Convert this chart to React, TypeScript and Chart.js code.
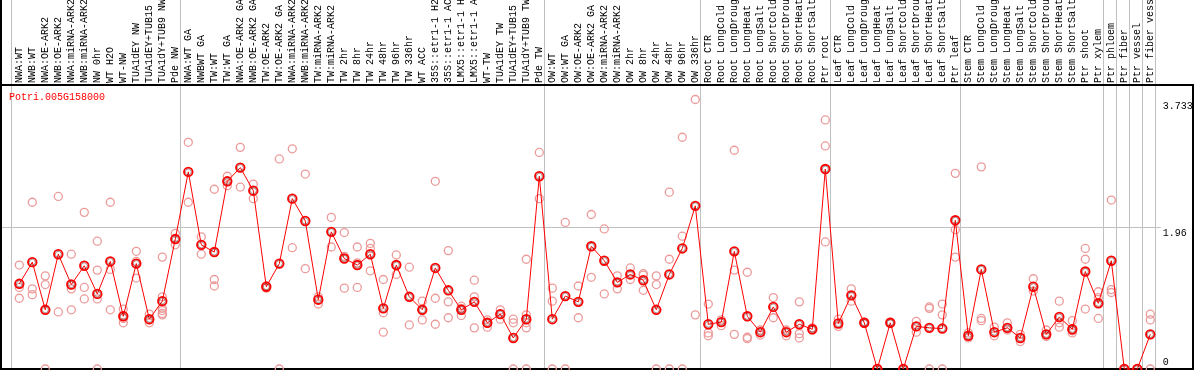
import React, { useEffect, useRef } from "react";
import { Chart, registerables } from "chart.js";

Chart.register(...registerables);

const geneId = "Potri.005G158000";

const categories = [
  "NWA:WT", "NWB:WT", "NWA:OE-ARK2", "NWB:OE-ARK2", "NWA:miRNA-ARK2", "NWB:miRNA-ARK2",
  "NW 0hr", "WT H2O", "WT-NW", "TUA1dEY NW", "TUA1dEY+TUB15 NW", "TUA1dY+TUB9 NW", "Pde NW",
  "NWA:WT GA", "NWBWT GA", "TW:WT", "TW:WT GA", "NWA:OE-ARK2 GA", "NWB:OE-ARK2 GA",
  "TW:OE-ARK2", "TW:OE-ARK2 GA", "NWA:miRNA-ARK2 GA", "NWB:miRNA-ARK2 GA", "TW:miRNA-ARK2",
  "TW:miRNA-ARK2 GA", "TW 2hr", "TW 8hr", "TW 24hr", "TW 48hr", "TW 96hr", "TW 336hr", "WT ACC",
  "35S::etr1-1 H2O", "35S::etr1-1 ACC", "LMX5::etr1-1 H2O", "LMX5::etr1-1 ACC", "WT-TW",
  "TUA1dEY TW", "TUA1dEY+TUB15 TW", "TUA1dY+TUB9 TW", "Pde TW",
  "OW:WT", "OW:WT GA", "OW:OE-ARK2", "OW:OE-ARK2 GA", "OW:miRNA-ARK2", "OW:miRNA-ARK2 GA",
  "OW 2hr", "OW 8hr", "OW 24hr", "OW 48hr", "OW 96hr", "OW 336hr",
  "Root CTR", "Root LongCold", "Root LongDrought", "Root LongHeat", "Root LongSalt",
  "Root ShortCold", "Root ShortDrought", "Root ShortHeat", "Root ShortSalt", "Ptr root",
  "Leaf CTR", "Leaf LongCold", "Leaf LongDrought", "Leaf LongHeat", "Leaf LongSalt",
  "Leaf ShortCold", "Leaf ShortDrought", "Leaf ShortHeat", "Leaf ShortSalt", "Ptr leaf",
  "Stem CTR", "Stem LongCold", "Stem LongDrought", "Stem LongHeat", "Stem LongSalt",
  "Stem ShortCold", "Stem ShortDrought", "Stem ShortHeat", "Stem ShortSalt", "Ptr shoot",
  "Ptr xylem", "Ptr phloem", "Ptr fiber", "Ptr vessel", "Ptr fiber vessel",
];

const meanValues = [
  1.18, 1.48, 0.82, 1.59, 1.17, 1.43, 1.04, 1.49, 0.73, 1.46, 0.69, 0.94, 1.80,
  2.73, 1.72, 1.62, 2.60, 2.79, 2.47, 1.14, 1.46, 2.36, 2.05, 0.96, 1.90, 1.53, 1.44,
  1.59, 0.84, 1.44, 1.00, 0.82, 1.40, 1.09, 0.82, 0.93, 0.64, 0.76, 0.43, 0.69, 2.67,
  0.69, 1.01, 0.93, 1.70, 1.50, 1.20, 1.31, 1.23, 0.82, 1.31, 1.67, 2.26,
  0.62, 0.65, 1.63, 0.73, 0.51, 0.86, 0.51, 0.62, 0.55, 2.77,
  0.63, 1.02, 0.64, 0, 0.64, 0, 0.59, 0.57, 0.56, 2.06,
  0.46, 1.38, 0.51, 0.57, 0.43, 1.14, 0.48, 0.72, 0.55, 1.35, 0.91,
  1.50, 0, 0, 0.48,
];

const replicateValues = [
  [1.44, 1.13, 0.98], [2.31, 1.11, 1.03], [1.29, 1.17, 0], [2.39, 0.79], [1.59, 1.11, 0.82],
  [2.17, 1.13, 0.97], [1.77, 1.37, 0.97, 0], [2.31, 1.38, 0.82], [0.83, 0.70, 0.64],
  [1.63, 1.49, 1.26], [0.76, 0.68, 0.64], [1.55, 1.00, 0.84, 0.81, 0.77, 0.75], [1.88, 1.72],
  [3.14, 2.31], [1.83, 1.59], [2.49, 1.24, 1.15], [2.67, 2.54], [3.07, 2.52], [2.56, 2.36],
  [1.15, 1.12], [2.91, 0], [3.05, 1.68], [2.70, 1.39], [1.00, 0.90], [2.10, 1.69],
  [1.89, 1.56, 1.12], [1.69, 1.47, 1.13], [1.74, 1.67, 1.36], [1.24, 0.78, 0.51], [1.58, 1.31],
  [1.41, 0.61], [0.94, 0.82, 0.68], [2.60, 0.98, 0.62], [1.64, 0.93, 0.71], [0.87, 0.84, 0.74],
  [1.23, 1.00, 0.57], [0.68, 0.64, 0.58], [0.82, 0.76, 0.69], [0.69, 0.64, 0],
  [1.52, 0.75, 0.69, 0.64, 0.57, 0], [3.00, 2.36],
  [1.12, 0.94, 0], [2.03, 0], [1.15, 0.71], [2.14, 1.27], [1.94, 1.04], [1.29, 1.11],
  [1.40, 1.24], [1.32, 1.30, 1.09], [1.29, 1.17, 0], [2.45, 1.52, 0], [3.21, 1.84, 0], [3.733, 0.75],
  [0.90, 0.50, 0.46], [0.68, 0.60], [3.03, 1.37, 0.48], [1.34, 0.44, 0.42], [0.54, 0.47],
  [0.99, 0.71], [0.54, 0.46], [0.93, 0.49, 0.43], [0.57, 0.54], [3.45, 3.09, 1.76],
  [0.69, 0.59], [1.11, 0.94], [0.65, 0.63], [0, 0], [0.65, 0.63], [0, 0], [0.66, 0.51],
  [0.84, 0.86, 0], [0.90, 0.75, 0], [2.71, 1.93, 1.55],
  [0.50, 0.43], [2.80, 0.70, 0.67], [0.58, 0.46], [0.64, 0.54], [0.48, 0.38], [1.25, 1.08],
  [0.54, 0.45], [0.94, 0.64, 0.58], [0.67, 0.53, 0.50], [1.67, 1.52, 0.83], [1.07, 0.99, 0.70],
  [2.34, 1.10, 1.06], [0, 0], [0, 0], [0.76, 0.68, 0],
];

const groupStarts = [0, 13, 41, 53, 63, 73, 84, 85, 86, 87, 88];
const yTickValues = [3.733, 1.96, 0];
const yTickLabels = ["3.733", "1.96", "0"];
const yGridValues = [1.96];
const yMax = 3.934;

const FONT = "10px 'Liberation Mono', 'DejaVu Sans Mono', monospace";

const decorPlugin = {
  id: "decor",
  beforeDatasetsDraw(chart: any) {
    const { ctx, chartArea } = chart;
    const xs = chart.scales.x;
    const ys = chart.scales.y;
    const W = chart.width;
    const H = chart.height;
    ctx.save();
    ctx.strokeStyle = "#c0c0c0";
    ctx.lineWidth = 1;
    for (const g of groupStarts) {
      const x = Math.round(xs.getPixelForValue(g - 0.5) - 1.5) + 0.5;
      ctx.beginPath();
      ctx.moveTo(x, 0);
      ctx.lineTo(x, H);
      ctx.stroke();
    }
    for (const v of yGridValues) {
      const y = Math.floor(ys.getPixelForValue(v)) + 0.5;
      ctx.beginPath();
      ctx.moveTo(0, y);
      ctx.lineTo(chartArea.right + 4, y);
      ctx.stroke();
    }
    ctx.fillStyle = "#000";
    ctx.fillRect(0, 0, 2, H);
    ctx.fillRect(0, chartArea.top - 1, W, 2);
    ctx.fillRect(0, chartArea.bottom - 1, W, 2);
    ctx.fillRect(W - 2, chartArea.top, 2, H - chartArea.top);
    ctx.restore();
  },
  afterDraw(chart: any) {
    const { ctx, chartArea } = chart;
    const xs = chart.scales.x;
    const ys = chart.scales.y;
    ctx.save();
    ctx.font = FONT;
    ctx.fillStyle = "#000";
    ctx.textAlign = "left";
    ctx.textBaseline = "middle";
    categories.forEach((label, i) => {
      ctx.save();
      ctx.translate(xs.getPixelForValue(i), chartArea.top - 2);
      ctx.rotate(-Math.PI / 2);
      ctx.fillText(label, 0, 0);
      ctx.restore();
    });
    const offsets = [7, 5.5, -7];
    yTickValues.forEach((v, i) => {
      ctx.fillText(yTickLabels[i], chartArea.right + 6, ys.getPixelForValue(v) + offsets[i]);
    });
    ctx.fillStyle = "#ff0000";
    ctx.fillText(geneId, 9, chartArea.top + 12);
    ctx.restore();
  },
};

export default function App() {
  const canvasRef = useRef<HTMLCanvasElement | null>(null);

  useEffect(() => {
    const canvas = canvasRef.current;
    if (!canvas) return;
    const meanPoints = meanValues.map((v, i) => ({ x: i, y: v }));
    const repPoints: { x: number; y: number }[] = [];
    replicateValues.forEach((reps, i) => reps.forEach((v) => repPoints.push({ x: i, y: v })));

    const chart = new Chart(canvas, {
      type: "scatter",
      data: {
        datasets: [
          {
            label: geneId + " inner",
            data: meanPoints,
            showLine: false,
            pointRadius: 3,
            pointBorderWidth: 0.7,
            pointBorderColor: "rgba(60,0,0,0.6)",
            pointBackgroundColor: "rgba(0,0,0,0)",
            clip: false,
            order: -1,
          } as any,
          {
            label: geneId,
            data: meanPoints,
            showLine: true,
            borderColor: "#ff0000",
            borderWidth: 1,
            pointRadius: 4.3,
            pointBorderWidth: 1.8,
            pointBorderColor: "#ff0000",
            pointBackgroundColor: "rgba(0,0,0,0)",
            clip: false,
            order: 0,
          } as any,
          {
            label: "replicates",
            data: repPoints,
            showLine: false,
            pointRadius: 4,
            pointBorderWidth: 1.3,
            pointBorderColor: "#ec9a9a",
            pointBackgroundColor: "rgba(0,0,0,0)",
            clip: false,
            order: 1,
          } as any,
        ],
      },
      options: {
        animation: false,
        responsive: false,
        devicePixelRatio: 1,
        layout: { autoPadding: false, padding: { top: 85, left: 12.8, right: 37.2, bottom: 1 } },
        plugins: { legend: { display: false }, tooltip: { enabled: false } },
        events: [],
        scales: {
          x: { type: "linear", min: -0.5, max: categories.length - 0.5, display: false },
          y: { type: "linear", min: 0, max: yMax, display: false },
        },
      },
      plugins: [decorPlugin],
    });
    return () => chart.destroy();
  }, []);

  return (
    <div style={{ position: "fixed", left: 0, top: 0, width: 1194, height: 370, background: "#fff" }}>
      <canvas ref={canvasRef} width={1194} height={370} style={{ display: "block" }} />
    </div>
  );
}
